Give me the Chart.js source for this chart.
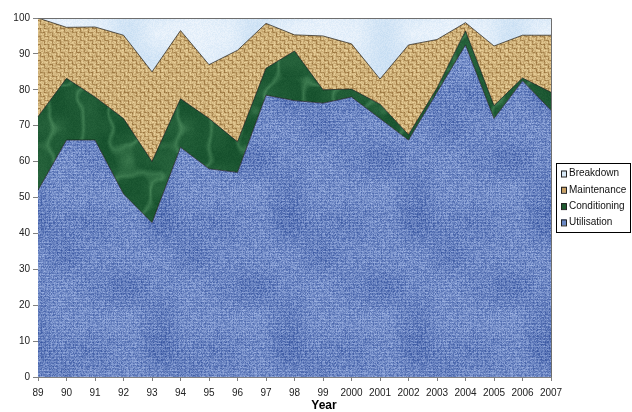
<!DOCTYPE html>
<html>
<head>
<meta charset="utf-8">
<script src="https://cdn.jsdelivr.net/npm/chart.js@4"></script>
<style>
  html, body { margin: 0; padding: 0; background: #ffffff; }
  #wrap { position: relative; width: 632px; height: 412px; }
  canvas { display: block; }
</style>
</head>
<body>
<div id="wrap"><canvas id="c" width="632" height="412"></canvas></div>
<script>
// ---- data ----
const years = ['89','90','91','92','93','94','95','96','97','98','99','2000','2001','2002','2003','2004','2005','2006','2007'];
const utilisation  = [52, 66, 66, 51, 43, 64, 58, 57, 78.5, 77, 76.3, 78, 72, 66, 79.3, 92.5, 72, 82.5, 74.3];
const conditioning = [20.5, 17.2, 12, 21, 17, 13.5, 14, 8.5, 7.5, 13.8, 3.7, 2.2, 4, 1.5, 1.2, 3.9, 3.6, 0.8, 5];
const maintenance  = [27.5, 14.2, 19.5, 23.2, 25, 19, 15, 25.5, 12.5, 4.5, 15, 12.6, 7, 25, 13.5, 2.3, 16.6, 11.9, 15.9];
const breakdown    = [0, 2.6, 2.5, 4.8, 15, 3.5, 13, 9, 1.5, 4.7, 5, 7.2, 17, 7.5, 6, 1.3, 7.8, 4.8, 4.8];
const seriesNames  = ['Utilisation', 'Conditioning', 'Maintenance', 'Breakdown'];
const yTicks = [0,10,20,30,40,50,60,70,80,90,100];

// ---- texture patterns (styling only, deterministic PRNG) ----
function prng(seed){ return function(){ seed |= 0; seed = seed + 0x6D2B79F5 | 0; let t = Math.imul(seed ^ seed >>> 15, 1 | seed); t = t + Math.imul(t ^ t >>> 7, 61 | t) ^ t; return ((t ^ t >>> 14) >>> 0) / 4294967296; }; }
function valueNoise(size, cell, rnd){
  const n = Math.round(size/cell), grid = [];
  for (let i=0;i<n*n;i++) grid.push(rnd());
  return function(x,y){
    const gx = x/cell, gy = y/cell, x0 = Math.floor(gx), y0 = Math.floor(gy);
    const fx = gx-x0, fy = gy-y0;
    const at = (a,b)=>grid[((b%n+n)%n)*n + ((a%n+n)%n)];
    const sx = fx*fx*(3-2*fx), sy = fy*fy*(3-2*fy);
    const a = at(x0,y0)*(1-sx)+at(x0+1,y0)*sx;
    const b = at(x0,y0+1)*(1-sx)+at(x0+1,y0+1)*sx;
    return a*(1-sy)+b*sy;
  };
}
function mix(c1,c2,t){ t=Math.max(0,Math.min(1,t)); return [c1[0]+(c2[0]-c1[0])*t, c1[1]+(c2[1]-c1[1])*t, c1[2]+(c2[2]-c1[2])*t]; }
function makePattern(size, fn){
  const cv = document.createElement('canvas'); cv.width = size; cv.height = size;
  const cx = cv.getContext('2d'); const img = cx.createImageData(size,size);
  for (let y=0;y<size;y++) for (let x=0;x<size;x++){
    const c = fn(x,y), i=(y*size+x)*4;
    img.data[i]=c[0]; img.data[i+1]=c[1]; img.data[i+2]=c[2]; img.data[i+3]=255;
  }
  cx.putImageData(img,0,0);
  return document.getElementById('c').getContext('2d').createPattern(cv,'repeat');
}
const r1 = prng(11), r2 = prng(23), r3 = prng(37), r4 = prng(51);
const blueNoise = valueNoise(128, 32, prng(5));
const bluePat = makePattern(128, (x,y)=>{
  let v = 0.42 + (r1()-0.5)*0.5 + (y%3===0?0.16:0) + (x%4===1?-0.1:0) + (blueNoise(x,y)-0.5)*0.25;
  return mix([55,85,160],[175,195,238],v);
});
const greenA = valueNoise(128, 32, prng(9));
const greenB = valueNoise(128, 16, prng(19));
const greenPat = makePattern(128, (x,y)=>{
  const n = greenA(x,y)*0.65 + greenB(x,y)*0.35;
  let vein = Math.max(0, 1 - Math.abs(n-0.5)*14) * 0.35;
  let v = 0.22 + vein + (greenB(x+7,y+3)-0.5)*0.2 + (r2()-0.5)*0.1;
  return mix([12,70,36],[95,160,110],v);
});
const tanPat = makePattern(64, (x,y)=>{
  const bx = Math.floor(x/4), by = Math.floor(y/4);
  const horiz = (bx+by)%2===0;
  const s = horiz ? (y%4) : (x%4);
  let v = 0.62 + (s===0?-0.33:(s===2?0.12:0)) + (r3()-0.5)*0.3;
  return mix([140,100,45],[248,225,170],v);
});
const skyNoise = valueNoise(128, 32, prng(77));
const skyPat = makePattern(128, (x,y)=>{
  let v = 0.45 + (skyNoise(x,y)-0.5)*0.6 + (r4()-0.5)*0.3;
  return mix([196,220,242],[248,251,255],v);
});
const swatchColors = ['#6a88c4', '#1e5a30', '#c8a064', '#d8e8f6'];
const patterns = [bluePat, greenPat, tanPat, skyPat];
const seriesData = [utilisation, conditioning, maintenance, breakdown];

const datasets = seriesNames.map((name, i) => ({
  label: name,
  data: seriesData[i],
  backgroundColor: patterns[i],
  borderColor: 'rgba(20,20,20,0.85)',
  borderWidth: 0.8,
  pointRadius: 0,
  tension: 0,
  fill: i === 0 ? 'origin' : '-1'
}));

const FONT = 'Liberation Sans, Arial, sans-serif';

const decorPlugin = {
  id: 'decor',
  afterDraw(chart){
    const ctx = chart.ctx, a = chart.chartArea;
    ctx.save();
    // plot-area frame (top and right)
    ctx.strokeStyle = '#6e6e6e'; ctx.lineWidth = 1;
    ctx.beginPath();
    ctx.moveTo(a.left, a.top + 0.5); ctx.lineTo(a.right + 0.5, a.top + 0.5); ctx.lineTo(a.right + 0.5, a.bottom);
    ctx.stroke();
    // axis title
    ctx.fillStyle = '#000'; ctx.font = 'bold 12px ' + FONT;
    ctx.textAlign = 'center'; ctx.textBaseline = 'middle';
    ctx.fillText('Year', 324, 406);
    // legend
    const lx = 556, ly = 163, lw = 75, lh = 70;
    ctx.fillStyle = '#fff'; ctx.fillRect(lx, ly, lw, lh);
    ctx.strokeStyle = '#000'; ctx.lineWidth = 1;
    ctx.strokeRect(lx + 0.5, ly + 0.5, lw - 1, lh - 1);
    ctx.font = '10px ' + FONT; ctx.textAlign = 'left'; ctx.textBaseline = 'middle';
    const ds = chart.data.datasets;
    for (let k = 0; k < ds.length; k++){
      const i = ds.length - 1 - k;
      const cy = ly + 10.5 + k * 16.3;
      ctx.fillStyle = swatchColors[i];
      ctx.fillRect(lx + 5, cy - 3, 5, 6);
      ctx.strokeStyle = '#222';
      ctx.strokeRect(lx + 5.5, cy - 2.5, 5, 6);
      ctx.fillStyle = '#111';
      ctx.fillText(ds[i].label, lx + 13, cy);
    }
    ctx.restore();
  }
};

new Chart(document.getElementById('c'), {
  type: 'line',
  data: { labels: years, datasets },
  options: {
    responsive: false,
    animation: false,
    events: [],
    layout: { padding: { top: 18, right: 81, bottom: 0, left: 0 } },
    plugins: { legend: { display: false }, tooltip: { enabled: false }, title: { display: false } },
    elements: { line: { borderJoinStyle: 'miter' } },
    scales: {
      x: {
        type: 'category',
        offset: false,
        afterFit(s){ s.height = 35; },
        grid: { display: true, drawOnChartArea: false, drawTicks: true, tickLength: 4, color: '#808080' },
        border: { display: true, color: '#808080', width: 1 },
        ticks: { color: '#222', font: { family: FONT, size: 10 }, padding: 6, maxRotation: 0, autoSkip: false }
      },
      y: {
        stacked: true,
        min: 0, max: 100,
        afterFit(s){ s.width = 38; },
        afterBuildTicks(s){ s.ticks = yTicks.map(v => ({ value: v })); },
        grid: { display: true, drawOnChartArea: false, drawTicks: true, tickLength: 5, color: '#808080' },
        border: { display: true, color: '#808080', width: 1 },
        ticks: { color: '#222', font: { family: FONT, size: 10 }, padding: 3 }
      }
    }
  },
  plugins: [decorPlugin]
});
</script>
</body>
</html>
